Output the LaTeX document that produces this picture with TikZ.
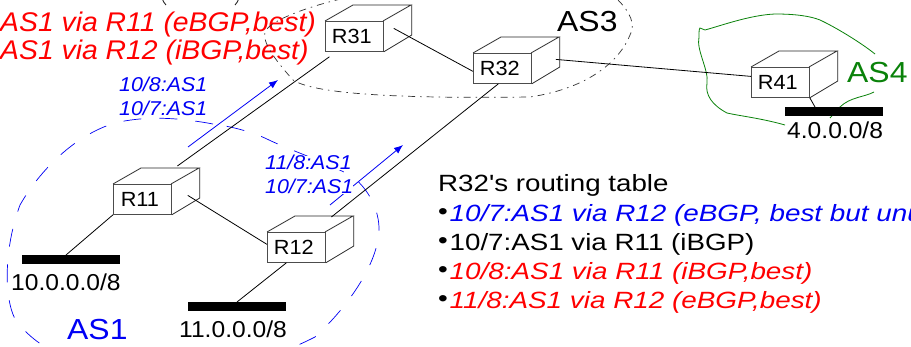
\documentclass[tikz,border=0pt]{standalone}
\usepackage{fontspec}
\setmainfont{Liberation Sans}
\newfontfamily\plainfont{Liberation Sans}
\usetikzlibrary{arrows.meta}
\definecolor{asblue}{RGB}{0,0,245}
\definecolor{asgreen}{RGB}{10,130,10}
\newcommand{\stretched}[1]{\addfontfeature{FakeStretch=#1}}
\newcommand{\tbul}{{\color{black}\upshape\makebox[11.5pt][l]{\raisebox{2pt}{\textbullet}}}}
\tikzset{x=1pt,y=-1pt,
 link/.style={draw=black,line width=0.8pt},
 asline/.style={draw=asblue,line width=0.7pt,dash pattern=on 18pt off 18pt},
 adv/.style={draw=asblue,line width=0.8pt,-{Latex[length=9pt,width=7pt]}},
 net/.style={fill=black,draw=none},
 lbl/.style={font=\fontsize{23}{23}\selectfont\stretched{1.07},inner sep=0pt,anchor=base west},
 blueit/.style={font=\fontsize{20}{23}\selectfont\itshape\stretched{1.07},text=asblue,inner sep=0pt,anchor=base west,fill=white},
 redbig/.style={font=\fontsize{27}{27}\selectfont\itshape\stretched{1.05},text=red,inner sep=0pt,anchor=base west},
 astitle/.style={font=\fontsize{29}{29}\selectfont\stretched{1.1},inner sep=0pt,anchor=base west},
 tbl/.style={font=\fontsize{23.5}{23.5}\plainfont\selectfont\stretched{1.18},inner sep=0pt,anchor=base west},
 tblit/.style={font=\fontsize{23.5}{23.5}\plainfont\selectfont\itshape\stretched{1.185},inner sep=0pt,anchor=base west},
}
\newcommand{\routerbox}[3]{% name, x, y of front top-left
 \node[draw=black!70!white,line width=0.8pt,fill=white,minimum width=58pt,minimum height=30pt,inner sep=0pt,anchor=north west,font=\fontsize{20.5}{20.5}\selectfont\stretched{1.06}] (#1) at (#2,#3) {\kern-5pt #1};
 \draw[draw=black!85!white,line width=0.8pt] (#1.north west) -- ++(28,-16) -- ++(58,0) -- ++(-28,16);
 \draw[draw=black!85!white,line width=0.8pt] (#1.north east) ++(28,-16) -- ++(0,30) -- (#1.south east);
}
\begin{document}
\begin{tikzpicture}
\useasboundingbox (0,0) rectangle (911,347);
\clip (0,0) rectangle (911,347);
\fill[white] (0,0) rectangle (911,347);
% bottoms of the clipped top line
\draw[black!85,line width=0.9pt] (162,-2) .. controls (163,1) and (164,3) .. (166,5);
\draw[black!85,line width=0.9pt] (239,-2) .. controls (238,1) and (237,3) .. (235,5);
% red lines
\node[redbig] (r1) at (0,32) {AS1 via R11 (eBGP,best)};
\node[redbig] (r2) at (0,60) {AS1 via R12 (iBGP,best)};
% AS3 dash-dot cloud
\draw[black!80,line width=0.7pt,dash pattern=on 7pt off 5pt on 1.5pt off 5pt]
 (618,0) .. controls (630,12) and (636,25) .. (630,35) .. controls (620,60) and (590,88) .. (530,97)
 .. controls (450,98) and (320,98) .. (293,80) .. controls (275,60) and (262,42) .. (265,32) .. controls (270,20) and (310,6) .. (345,-2);
% AS1 dashed
\draw[asline] (213,124) .. controls (170,116) and (140,117) .. (115,123) .. controls (75,135) and (40,170) .. (20,205)
 .. controls (5,245) and (3,295) .. (15,319) .. controls (30,340) and (60,365) .. (130,372)
 .. controls (200,378) and (260,365) .. (315,337) .. controls (350,305) and (380,260) .. (379,227)
 .. controls (378,205) and (365,185) .. (350,175) .. controls (320,160) and (290,150) .. (269,140) .. controls (255,133) and (235,127) .. (213,124);
% AS4 green
\draw[asgreen,line width=0.8pt] (785,125) .. controls (760,118) and (740,116) .. (727,113)
 .. controls (712,105) and (705,95) .. (707,83) .. controls (709,70) and (696,50) .. (699,37) .. controls (699,32) and (699,29) .. (700,28)
 -- (705,30) .. controls (720,26) and (750,15) .. (775,14) .. controls (795,14) and (810,16) .. (820,20) .. controls (835,27) and (860,42) .. (875,54);
\draw[asgreen,line width=0.8pt] (874,92) .. controls (865,97) and (850,97) .. (840,107) .. controls (836,110) and (833,115) .. (830,118);
% nets
\fill[net] (22,255) rectangle (120,264);
\fill[net] (188,302) rectangle (286,311);
\fill[net] (785,107) rectangle (883,116);
\coordinate (n10) at (66,255);
\coordinate (n11) at (237,302);
\coordinate (n4) at (815,107);
% adverts
\draw[adv] (188,147) -- (278,80);
\draw[adv] (330,205) -- (403,145);
% routers
\routerbox{R31}{325}{21}
\routerbox{R32}{473}{53}
\routerbox{R41}{751}{67}
\routerbox{R11}{113}{184}
\routerbox{R12}{267}{232}
% links
\draw[link] ([shift={(10,-8)}]R31.east) -- ([shift={(0,3)}]R32.west);
\draw[link] ([shift={(24,-9)}]R32.east) -- ([shift={(0,-6)}]R41.west);
\draw[link] ([shift={(35,-18)}]R11.north) -- ([shift={(-25,5)}]R31.south);
\draw[link] ([shift={(35,-15)}]R12.north) -- ([shift={(-4,0)}]R32.south);
\draw[link] ([shift={(16,-4)}]R11.east) -- ([shift={(0,-3)}]R12.west);
\draw[link] (R11.south west) -- (n10);
\draw[link] ([shift={(-10,0)}]R12.south) -- (n11);
\draw[link] (R41.south east) -- (n4);
% labels
\node[blueit] (b1) at (119,92) {10/8:AS1};
\node[blueit] (b2) at (119,116) {10/7:AS1};
\node[blueit] (b3) at (265,170) {11/8:AS1};
\node[blueit] (b4) at (265,194) {10/7:AS1};
\node[astitle] (as3) at (557,32) {AS3};
\node[astitle,text=asgreen] (as4) at (847,83) {AS4};
\node[astitle,text=asblue] (as1) at (67,340) {AS1};
\node[lbl] (l10) at (11,291) {10.0.0.0/8};
\node[lbl] (l11) at (179,338) {11.0.0.0/8};
\node[lbl] (l4) at (787,139) {4.0.0.0/8};
\node[tbl] (t0) at (438,192) {R32's routing table};
\node[tblit,text=asblue] (t1) at (438,222) {\tbul 10/7:AS1 via R12 (eBGP, best but unused)};
\node[tbl] (t2) at (438,251) {\tbul 10/7:AS1 via R11 (iBGP)};
\node[tblit,text=red] (t3) at (438,280) {\tbul 10/8:AS1 via R11 (iBGP,best)};
\node[tblit,text=red] (t4) at (438,309) {\tbul 11/8:AS1 via R12 (eBGP,best)};
\end{tikzpicture}
\end{document}
